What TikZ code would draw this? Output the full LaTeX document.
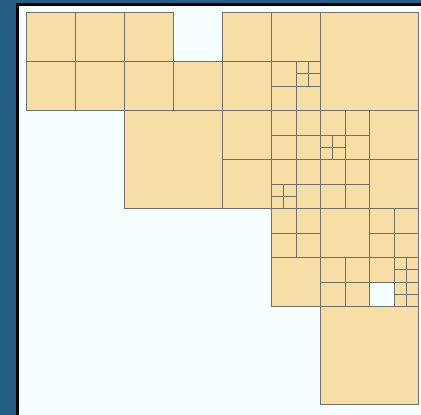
\documentclass[tikz,border=0pt]{standalone}
\usepackage{xcolor}
\usepackage{tikz}
\definecolor{deskblue}{HTML}{245F87}
\definecolor{panelfill}{HTML}{F6FFFF}
\definecolor{cellfill}{HTML}{F7DEA5}
\definecolor{cellline}{HTML}{707070}

\begin{document}
\begin{tikzpicture}[
  x=1pt, y=-1pt,
  cell/.style={fill=cellfill, draw=cellline, line width=0.9pt},
  frame/.style={fill=black}
]
  \useasboundingbox (0,0) rectangle (421,415);
  % window behind the panel
  \fill[deskblue] (0,0) rectangle (421,415);
  \fill[frame] (16,3) rectangle (421,415);
  \fill[panelfill] (19,6) rectangle (421,415);

  \begin{scope}[shift={(26.5,12.5)}, x=49pt, y=-49pt]
    % whole squares
    \foreach \cx/\cy in {0/0,1/0,2/0,4/0,5/0, 0/1,1/1,2/1,3/1,4/1,
                         4/2,7/2, 4/3,7/3, 6/4, 5/5}
      \draw[cell] (\cx,\cy) rectangle ++(1,1);
    % double squares
    \foreach \cx/\cy in {6/0, 2/2, 6/6}
      \draw[cell] (\cx,\cy) rectangle ++(2,2);
    % half squares
    \foreach \cx/\cy in {5/1,5/1.5,5.5/1.5,
                         5/2,5.5/2,5/2.5,5.5/2.5,
                         6/2,6.5/2,6.5/2.5,
                         5/3,5.5/3,5.5/3.5,
                         6/3,6.5/3,6/3.5,6.5/3.5,
                         5/4,5.5/4,5/4.5,5.5/4.5,
                         7/4,7.5/4,7/4.5,7.5/4.5,
                         6/5,6.5/5,6/5.5,6.5/5.5,
                         7/5}
      \draw[cell] (\cx,\cy) rectangle ++(0.5,0.5);
    % quarter squares
    \foreach \cx/\cy in {5.5/1,5.75/1,5.5/1.25,5.75/1.25,
                         6/2.5,6.25/2.5,6/2.75,6.25/2.75,
                         5/3.5,5.25/3.5,5/3.75,5.25/3.75,
                         7.5/5,7.75/5,7.5/5.25,7.75/5.25,
                         7.5/5.5,7.75/5.5,7.5/5.75,7.75/5.75}
      \draw[cell] (\cx,\cy) rectangle ++(0.25,0.25);
  \end{scope}
\end{tikzpicture}
\end{document}
